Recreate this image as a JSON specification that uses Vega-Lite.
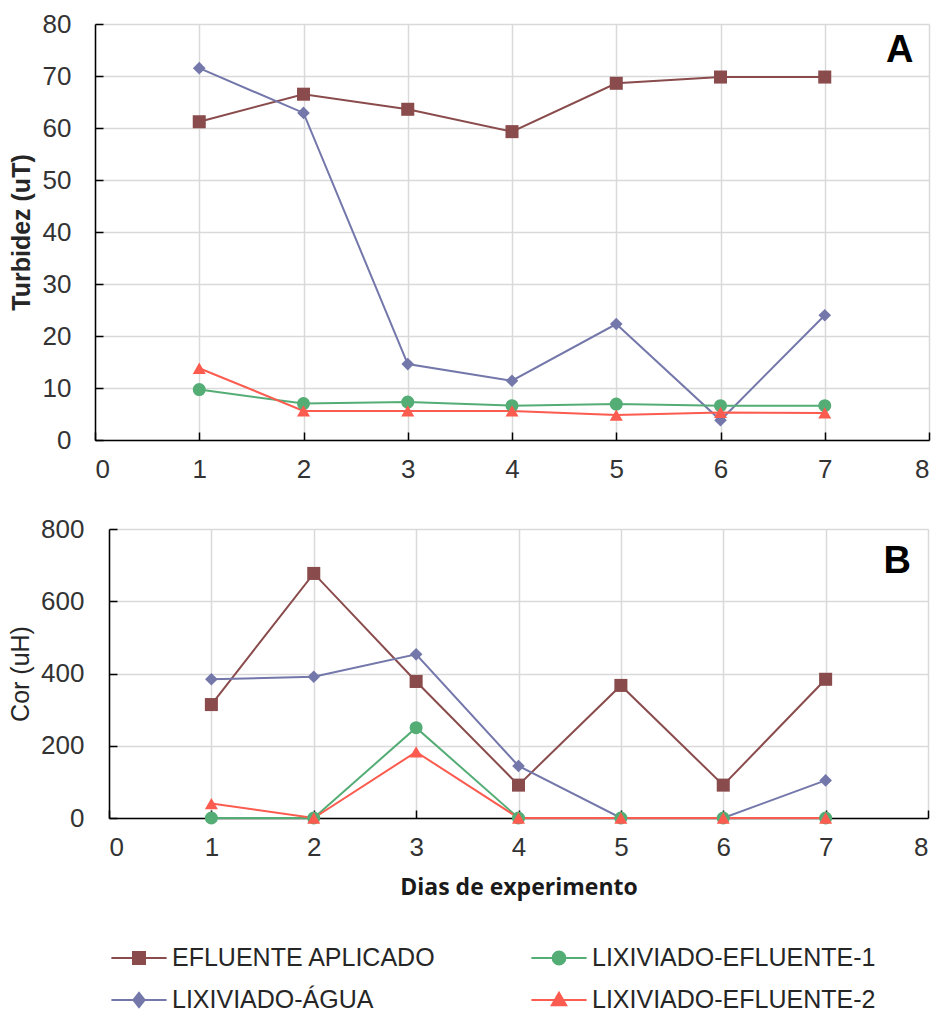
{
  "$schema": "https://vega.github.io/schema/vega-lite/v6.json",
  "padding": {"left": 8, "top": 11, "right": 2, "bottom": 2},
  "background": "white",
  "config": {
    "view": {"stroke": null},
    "font": "Liberation Sans",
    "axis": {
      "gridColor": "#d9d9d9", "gridWidth": 1.5,
      "domainColor": "#000000", "domainWidth": 1.5,
      "tickColor": "#000000", "tickWidth": 1.5, "tickSize": -8,
      "labelFont": "Liberation Sans", "labelFontSize": 26, "labelColor": "#333333",
      "titleFont": "Liberation Sans", "titleFontSize": 25, "titleColor": "#262626"
    }
  },
  "datasets": {
    "d": [
      {"dia": 1, "serie": "EFLUENTE APLICADO", "turbidez": 61.2, "cor": 314},
      {"dia": 2, "serie": "EFLUENTE APLICADO", "turbidez": 66.5, "cor": 677},
      {"dia": 3, "serie": "EFLUENTE APLICADO", "turbidez": 63.6, "cor": 378},
      {"dia": 4, "serie": "EFLUENTE APLICADO", "turbidez": 59.3, "cor": 91},
      {"dia": 5, "serie": "EFLUENTE APLICADO", "turbidez": 68.6, "cor": 367},
      {"dia": 6, "serie": "EFLUENTE APLICADO", "turbidez": 69.8, "cor": 91},
      {"dia": 7, "serie": "EFLUENTE APLICADO", "turbidez": 69.8, "cor": 384},
      {"dia": 1, "serie": "LIXIVIADO-ÁGUA", "turbidez": 71.5, "cor": 384},
      {"dia": 2, "serie": "LIXIVIADO-ÁGUA", "turbidez": 62.9, "cor": 391},
      {"dia": 3, "serie": "LIXIVIADO-ÁGUA", "turbidez": 14.6, "cor": 453},
      {"dia": 4, "serie": "LIXIVIADO-ÁGUA", "turbidez": 11.4, "cor": 144},
      {"dia": 5, "serie": "LIXIVIADO-ÁGUA", "turbidez": 22.3, "cor": 0},
      {"dia": 6, "serie": "LIXIVIADO-ÁGUA", "turbidez": 3.8, "cor": 0},
      {"dia": 7, "serie": "LIXIVIADO-ÁGUA", "turbidez": 24.0, "cor": 104},
      {"dia": 1, "serie": "LIXIVIADO-EFLUENTE-1", "turbidez": 9.7, "cor": 0},
      {"dia": 2, "serie": "LIXIVIADO-EFLUENTE-1", "turbidez": 7.0, "cor": 0},
      {"dia": 3, "serie": "LIXIVIADO-EFLUENTE-1", "turbidez": 7.3, "cor": 250},
      {"dia": 4, "serie": "LIXIVIADO-EFLUENTE-1", "turbidez": 6.6, "cor": 0},
      {"dia": 5, "serie": "LIXIVIADO-EFLUENTE-1", "turbidez": 6.9, "cor": 0},
      {"dia": 6, "serie": "LIXIVIADO-EFLUENTE-1", "turbidez": 6.6, "cor": 0},
      {"dia": 7, "serie": "LIXIVIADO-EFLUENTE-1", "turbidez": 6.6, "cor": 0},
      {"dia": 1, "serie": "LIXIVIADO-EFLUENTE-2", "turbidez": 13.8, "cor": 40},
      {"dia": 2, "serie": "LIXIVIADO-EFLUENTE-2", "turbidez": 5.6, "cor": 0},
      {"dia": 3, "serie": "LIXIVIADO-EFLUENTE-2", "turbidez": 5.6, "cor": 183},
      {"dia": 4, "serie": "LIXIVIADO-EFLUENTE-2", "turbidez": 5.6, "cor": 0},
      {"dia": 5, "serie": "LIXIVIADO-EFLUENTE-2", "turbidez": 4.8, "cor": 0},
      {"dia": 6, "serie": "LIXIVIADO-EFLUENTE-2", "turbidez": 5.3, "cor": 0},
      {"dia": 7, "serie": "LIXIVIADO-EFLUENTE-2", "turbidez": 5.2, "cor": 0}
    ]
  },
  "columns": 1,
  "spacing": 34,
  "resolve": {"scale": {"x": "independent", "y": "independent", "color": "shared"}},
  "concat": [
    {
      "width": 834,
      "height": 416,
      "layer": [
        {
          "data": {"name": "d"},
          "mark": {"type": "line", "strokeWidth": 2},
          "encoding": {
            "x": {"field": "dia", "type": "quantitative", "scale": {"domain": [0, 8], "nice": false}, "axis": {"values": [0, 1, 2, 3, 4, 5, 6, 7, 8], "format": "d", "title": null, "labelPadding": 24}},
            "y": {"field": "turbidez", "type": "quantitative", "scale": {"domain": [0, 80], "nice": false}, "axis": {"values": [0, 10, 20, 30, 40, 50, 60, 70, 80], "format": "d", "title": "Turbidez (uT)", "titleFontWeight": "bold", "titlePadding": 8, "labelPadding": 32}},
            "color": {
              "field": "serie", "type": "nominal",
              "scale": {"domain": ["EFLUENTE APLICADO", "LIXIVIADO-ÁGUA", "LIXIVIADO-EFLUENTE-1", "LIXIVIADO-EFLUENTE-2"], "range": ["#8A4B4C", "#7377AA", "#55AD76", "#FC5B4F"]},
              "legend": {
                "orient": "none", "legendX": 23, "legendY": 913,
                "title": null, "columns": 2, "columnPadding": 91, "rowPadding": 8,
                "symbolSize": 1600, "symbolStrokeWidth": 2,
                "labelFont": "Liberation Sans", "labelFontSize": 25, "labelColor": "#262626", "labelOffset": 12, "labelLimit": 0,
                "encode": {
                  "symbols": {
                    "update": {
                      "shape": {"signal": "datum.value === 'EFLUENTE APLICADO' ? 'M-1.38,0L1.38,0M-0.3,-0.3L0.3,-0.3L0.3,0.3L-0.3,0.3Z' : datum.value === 'LIXIVIADO-EFLUENTE-1' ? 'M-1.38,0L1.38,0M-0.32,0A0.32,0.32 0 1,0 0.32,0A0.32,0.32 0 1,0 -0.32,0Z' : datum.value === 'LIXIVIADO-EFLUENTE-2' ? 'M-1.38,0L1.38,0M0,-0.36L0.36,0.26L-0.36,0.26Z' : 'M-1.38,0L1.38,0M0,-0.36L0.28,0L0,0.36L-0.28,0Z'"},
                      "fill": {"scale": "color", "field": "value"},
                      "stroke": {"scale": "color", "field": "value"},
                      "strokeWidth": {"value": 2},
                      "opacity": {"value": 1}
                    }
                  }
                }
              }
            }
          }
        },
        {
          "data": {"name": "d"},
          "transform": [{"filter": "datum.serie === 'EFLUENTE APLICADO'"}],
          "mark": {"type": "point", "shape": "square", "filled": true, "opacity": 1, "size": 170},
          "encoding": {"x": {"field": "dia", "type": "quantitative"}, "y": {"field": "turbidez", "type": "quantitative"}, "color": {"field": "serie", "type": "nominal"}}
        },
        {
          "data": {"name": "d"},
          "transform": [{"filter": "datum.serie === 'LIXIVIADO-ÁGUA'"}],
          "mark": {"type": "point", "shape": "diamond", "filled": true, "opacity": 1, "size": 160},
          "encoding": {"x": {"field": "dia", "type": "quantitative"}, "y": {"field": "turbidez", "type": "quantitative"}, "color": {"field": "serie", "type": "nominal"}}
        },
        {
          "data": {"name": "d"},
          "transform": [{"filter": "datum.serie === 'LIXIVIADO-EFLUENTE-1'"}],
          "mark": {"type": "point", "shape": "circle", "filled": true, "opacity": 1, "size": 170},
          "encoding": {"x": {"field": "dia", "type": "quantitative"}, "y": {"field": "turbidez", "type": "quantitative"}, "color": {"field": "serie", "type": "nominal"}}
        },
        {
          "data": {"name": "d"},
          "transform": [{"filter": "datum.serie === 'LIXIVIADO-EFLUENTE-2'"}],
          "mark": {"type": "point", "shape": "triangle-up", "filled": true, "opacity": 1, "size": 170},
          "encoding": {"x": {"field": "dia", "type": "quantitative"}, "y": {"field": "turbidez", "type": "quantitative"}, "color": {"field": "serie", "type": "nominal"}}
        },
        {
          "data": {"values": [{"t": "A"}]},
          "mark": {"type": "text", "font": "Liberation Sans", "fontWeight": "bold", "fontSize": 38, "color": "#000000", "baseline": "middle", "align": "center"},
          "encoding": {
            "x": {"datum": 7.72, "type": "quantitative"},
            "y": {"datum": 74.8, "type": "quantitative"},
            "text": {"field": "t"}
          }
        }
      ]
    },
    {
      "spacing": -88,
      "resolve": {"scale": {"x": "independent", "y": "independent", "color": "shared"}},
      "hconcat": [
        {
          "width": 1,
          "height": 289,
          "data": {"values": [{"t": ""}]},
          "mark": {"type": "text", "opacity": 0},
          "encoding": {"text": {"field": "t"}}
        },
        {
          "width": 819,
          "height": 289,
          "layer": [
            {
              "data": {"name": "d"},
              "mark": {"type": "line", "strokeWidth": 2},
              "encoding": {
                "x": {"field": "dia", "type": "quantitative", "scale": {"domain": [0, 8], "nice": false}, "axis": {"values": [0, 1, 2, 3, 4, 5, 6, 7, 8], "format": "d", "title": "Dias de experimento", "titleFont": "Open Sans", "titleFontWeight": "bold", "titleFontSize": 23, "titleColor": "#1a1a1a", "titlePadding": 16, "labelPadding": 24}},
                "y": {"field": "cor", "type": "quantitative", "scale": {"domain": [0, 800], "nice": false}, "axis": {"values": [0, 200, 400, 600, 800], "format": "d", "title": "Cor (uH)", "titleFontWeight": "normal", "titlePadding": 7, "labelPadding": 33}},
                "color": {"field": "serie", "type": "nominal"}
              }
            },
            {
              "data": {"name": "d"},
              "transform": [{"filter": "datum.serie === 'EFLUENTE APLICADO'"}],
              "mark": {"type": "point", "shape": "square", "filled": true, "opacity": 1, "size": 170},
              "encoding": {"x": {"field": "dia", "type": "quantitative"}, "y": {"field": "cor", "type": "quantitative"}, "color": {"field": "serie", "type": "nominal"}}
            },
            {
              "data": {"name": "d"},
              "transform": [{"filter": "datum.serie === 'LIXIVIADO-ÁGUA'"}],
              "mark": {"type": "point", "shape": "diamond", "filled": true, "opacity": 1, "size": 160},
              "encoding": {"x": {"field": "dia", "type": "quantitative"}, "y": {"field": "cor", "type": "quantitative"}, "color": {"field": "serie", "type": "nominal"}}
            },
            {
              "data": {"name": "d"},
              "transform": [{"filter": "datum.serie === 'LIXIVIADO-EFLUENTE-1'"}],
              "mark": {"type": "point", "shape": "circle", "filled": true, "opacity": 1, "size": 170},
              "encoding": {"x": {"field": "dia", "type": "quantitative"}, "y": {"field": "cor", "type": "quantitative"}, "color": {"field": "serie", "type": "nominal"}}
            },
            {
              "data": {"name": "d"},
              "transform": [{"filter": "datum.serie === 'LIXIVIADO-EFLUENTE-2'"}],
              "mark": {"type": "point", "shape": "triangle-up", "filled": true, "opacity": 1, "size": 170},
              "encoding": {"x": {"field": "dia", "type": "quantitative"}, "y": {"field": "cor", "type": "quantitative"}, "color": {"field": "serie", "type": "nominal"}}
            },
            {
              "data": {"values": [{"t": "B"}]},
              "mark": {"type": "text", "font": "Liberation Sans", "fontWeight": "bold", "fontSize": 38, "color": "#000000", "baseline": "middle", "align": "center"},
              "encoding": {
                "x": {"datum": 7.7, "type": "quantitative"},
                "y": {"datum": 708, "type": "quantitative"},
                "text": {"field": "t"}
              }
            }
          ]
        }
      ]
    }
  ]
}
